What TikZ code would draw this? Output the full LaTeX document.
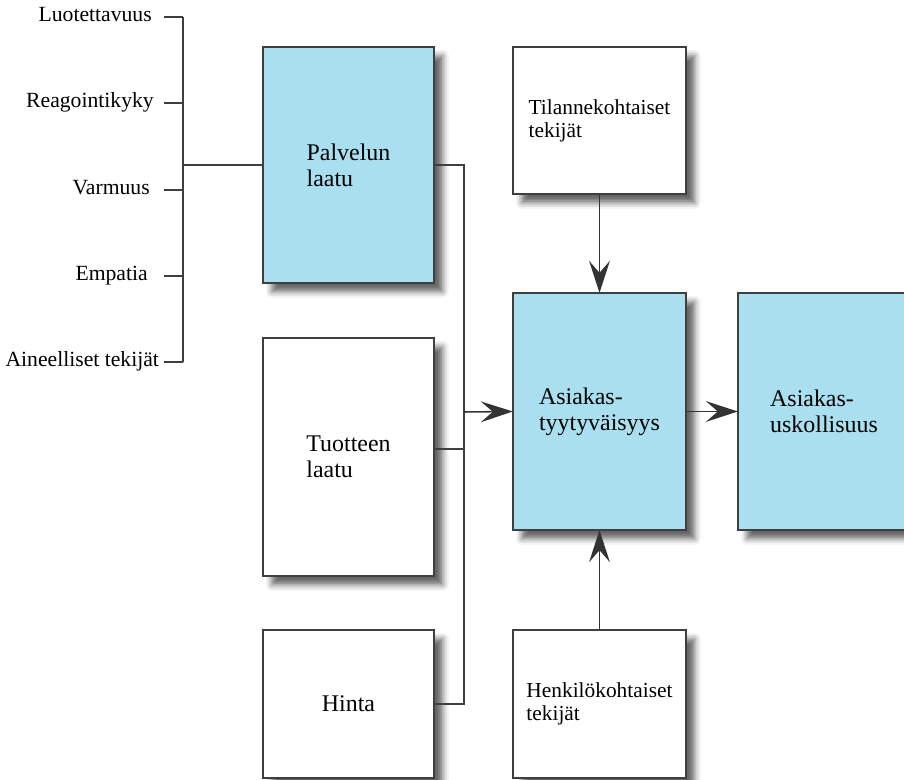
\documentclass[tikz,border=0pt]{standalone}
\usepackage{fontspec}
\setmainfont{Liberation Serif}
\usepackage{xcolor}
\usetikzlibrary{positioning,arrows.meta,shadows.blur}
\definecolor{sininen}{HTML}{A9DFEF}
\definecolor{viiva}{HTML}{3F3F3F}

\begin{document}
\begin{tikzpicture}[x=0.025cm, y=-0.025cm,
  laatikko/.style={draw=viiva, line width=1.2pt, fill=white, align=left, inner sep=0pt,
    font=\fontsize{17}{18.5}\selectfont,
    blur shadow={shadow xshift=0.22cm, shadow yshift=-0.22cm, shadow blur radius=0.15cm, shadow opacity=60}},
  pieni/.style={font=\fontsize{15.2}{16.5}\selectfont},
  sin/.style={fill=sininen},
  tekija/.style={inner sep=0pt, anchor=east, text height=1.4ex, text depth=0pt, font=\fontsize{15.4}{17}\selectfont},
  yhteys/.style={draw=viiva, line width=1.1pt},
  nuoli/.style={yhteys, draw=black!80, -{Stealth[length=8mm, width=5.2mm, inset=3mm]}, shorten >=-0.5pt}]
\useasboundingbox (0,0) rectangle (904,780);
% vasen sarake
\node[laatikko, sin, minimum width=4.275cm, minimum height=5.9cm] (palvelu) at (348.5,165) {Palvelun\\laatu};
\node[laatikko, minimum width=4.275cm, minimum height=5.95cm] (tuote) at (348.5,457) {Tuotteen\\laatu};
\node[laatikko, minimum width=4.275cm, minimum height=3.7cm] (hinta) at (348.5,704) {Hinta};
% keskisarake
\node[laatikko, pieni, minimum width=4.325cm, minimum height=3.675cm] (tilanne) at (599.5,120.5) {Tilannekohtaiset\\tekijät};
\node[laatikko, sin, minimum width=4.325cm, minimum height=5.925cm] (tyyt) at (599.5,411.5) {Asiakas-\\tyytyväisyys};
\node[laatikko, pieni, minimum width=4.325cm, minimum height=3.7cm] (henk) at (599.5,704) {Henkilökohtaiset\\tekijät};
\node[laatikko, sin, minimum width=4.3cm, minimum height=5.925cm] (uskoll) at (824,411.5) {Asiakas-\\uskollisuus};
% palvelun laadun osatekijät
\coordinate (haara) at (183,165);
\foreach \teksti/\yy/\vali [count=\i] in {Luotettavuus/17/0.3cm, Reagointikyky/103/0.25cm,
    Varmuus/190/0.35cm, Empatia/276/0.4cm, Aineelliset tekijät/362/0.12cm} {
  \coordinate (t\i) at (164,\yy);
  \node[tekija, left=\vali of t\i] (n\i) {\teksti};
  \draw[yhteys] (t\i) -- (t\i -| haara);
}
\draw[yhteys] (t1 -| haara) -- (t5 -| haara);
\draw[yhteys] (haara) -- (haara -| palvelu.west);
% kokoava viiva
\coordinate (kokoaja) at (464,412);
\draw[yhteys] (palvelu.east) -- (palvelu.east -| kokoaja) -- (hinta.east -| kokoaja) -- (hinta.east);
\draw[yhteys] ([yshift=0.2cm]tuote.east) -- ([yshift=0.2cm]tuote.east -| kokoaja);
\foreach \a/\b in {kokoaja/tyyt.west, tyyt/uskoll, tilanne/tyyt, henk/tyyt} \draw[nuoli] (\a) -- (\b);
\end{tikzpicture}
\end{document}
